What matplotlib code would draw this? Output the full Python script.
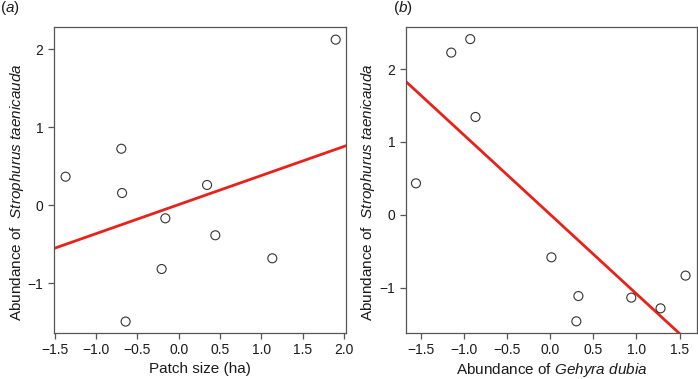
import numpy as np
import matplotlib
matplotlib.use("Agg")
import matplotlib.pyplot as plt

plt.rcParams['font.family'] = ['Liberation Sans', 'DejaVu Sans']
plt.rcParams['mathtext.fontset'] = 'custom'
plt.rcParams['mathtext.rm'] = 'Liberation Sans'
plt.rcParams['mathtext.it'] = 'Liberation Sans:italic'

# panel (a): patch size vs Strophurus abundance
patch_size = [1.90, -1.37, -0.695, -0.686, 0.343, -0.162, 0.443, -0.207, 1.133, -0.643]
stroph_a = [2.12, 0.365, 0.723, 0.156, 0.259, -0.168, -0.385, -0.817, -0.68, -1.49]
fit_a = (0.008, 0.372)  # intercept, slope

# panel (b): Gehyra vs Strophurus abundance
gehyra = [-1.555, -1.146, -0.926, -0.865, 0.015, 0.328, 0.304, 0.941, 1.28, 1.57]
stroph_b = [0.432, 2.225, 2.41, 1.342, -0.583, -1.114, -1.461, -1.136, -1.283, -0.834]
fit_b = (0.006, -1.09)

xticks_a = [-1.5, -1.0, -0.5, 0.0, 0.5, 1.0, 1.5, 2.0]
xticks_b = [-1.5, -1.0, -0.5, 0.0, 0.5, 1.0, 1.5]
yticks_a = [-1, 0, 1, 2]
yticks_b = [-1, 0, 1, 2]

spine_col = '#555555'
txt_col = '#1a1a1a'
red = '#e8221b'

fig = plt.figure(figsize=(6.98, 3.79), dpi=100)
ax1 = fig.add_axes([54/698, 1-332.5/379, 292/698, 305.2/379])
ax2 = fig.add_axes([405.7/698, 1-332.7/379, 291.5/698, 305.4/379])


def style(ax, xticks, yticks, xlim, ylim):
    ax.set_xlim(*xlim)
    ax.set_ylim(*ylim)
    ax.set_xticks(xticks)
    ax.set_xticklabels([f"{t:.1f}".replace('-', '\u2212') for t in xticks])
    ax.set_yticks(yticks)
    ax.set_yticklabels([str(t).replace('-', '\u2212') for t in yticks])
    for s in ax.spines.values():
        s.set_color(spine_col)
        s.set_linewidth(0.9)
    ax.tick_params(direction='out', length=4.5, width=0.9, color=spine_col,
                   labelsize=10, pad=3, labelcolor=txt_col)


def draw(ax, x, y, fit):
    ax.scatter(x, y, s=42, facecolors='none', edgecolors='#333333', linewidths=0.8, zorder=3)
    xl = np.array(ax.get_xlim())
    ax.plot(xl, fit[0] + fit[1] * xl, color=red, lw=2.0, zorder=2)


ylab = r'Abundance of  $\it{Strophurus\ taenicauda}$'

style(ax1, xticks_a, yticks_a, (-1.51, 2.025), (-1.63, 2.278))
draw(ax1, patch_size, stroph_a, fit_a)
ax1.set_xlabel('Patch size (ha)', fontsize=11, color=txt_col)
ax1.set_ylabel(ylab, fontsize=11, color=txt_col)
ax1.xaxis.set_label_coords(0.5, -0.096)
ax1.yaxis.set_label_coords(-0.095, 0.46)

style(ax2, xticks_b, yticks_b, (-1.674, 1.705), (-1.617, 2.572))
draw(ax2, gehyra, stroph_b, fit_b)
ax2.set_xlabel(r'Abundance of $\it{Gehyra\ dubia}$', fontsize=11, color=txt_col)
ax2.set_ylabel(ylab, fontsize=11, color=txt_col)
ax2.xaxis.set_label_coords(0.5, -0.094)
ax2.yaxis.set_label_coords(-0.1, 0.46)

fig.text(0 / 698, 1 - 8 / 379, r'($\it{a}$)', fontsize=11, va='center', ha='left', color=txt_col)
fig.text(393 / 698, 1 - 8 / 379, r'($\it{b}$)', fontsize=11, va='center', ha='left', color=txt_col)

fig.savefig('out.png', dpi=100)
